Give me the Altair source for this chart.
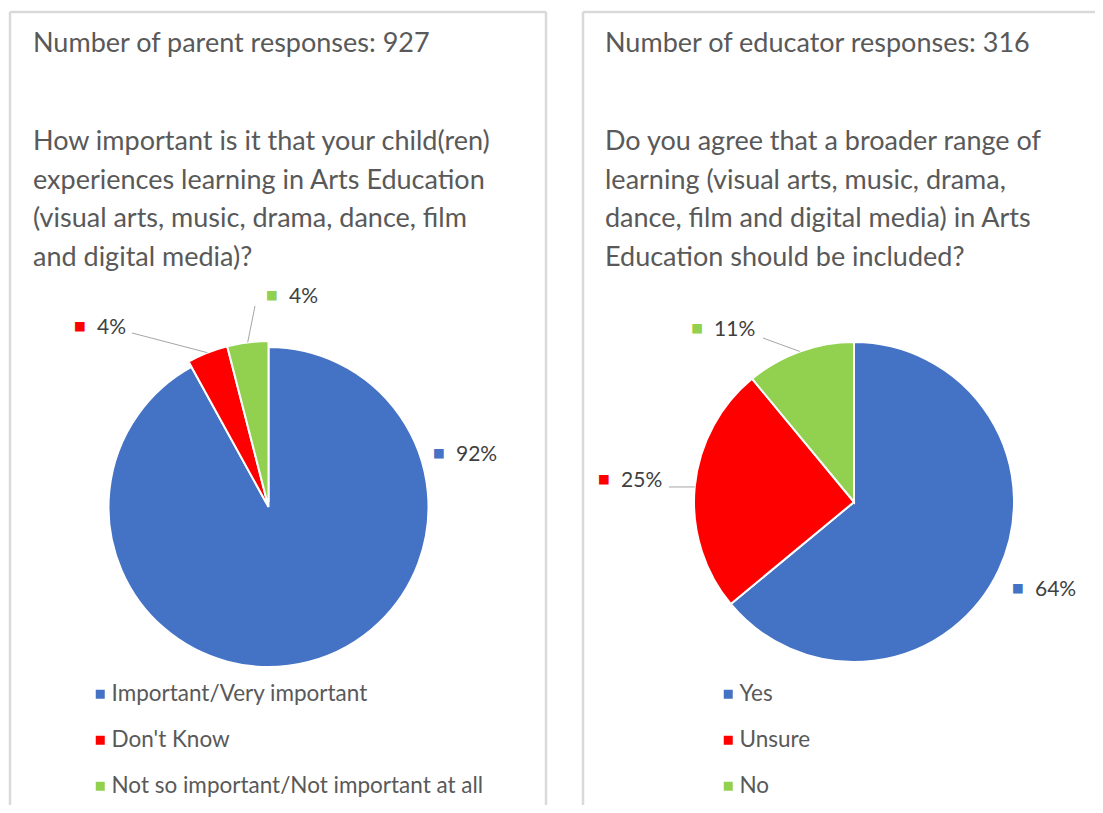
import altair as alt
import pandas as pd

# ---------------- data ----------------
parent_categories = ["Important/Very important", "Don't Know", "Not so important/Not important at all"]
parent_values = [92, 4, 4]
educator_categories = ["Yes", "Unsure", "No"]
educator_values = [64, 25, 11]

parent_heading = "Number of parent responses: 927"
parent_question = [
    "How important is it that your child(ren)",
    "experiences learning in Arts Education",
    "(visual arts, music, drama, dance, film",
    "and digital media)?",
]
educator_heading = "Number of educator responses: 316"
educator_question = [
    "Do you agree that a broader range of",
    "learning (visual arts, music, drama,",
    "dance, film and digital media) in Arts",
    "Education should be included?",
]

# ---------------- style ----------------
COLORS = ["#4472C4", "#FF0000", "#92D050"]
FONT = "Lato"
TEXT = "#595959"
LABEL = "#404040"
BORDER = "#D9D9D9"
LEADER = "#A6A6A6"
W, H = 1087, 797
RL = 185
THETA_SCALE = alt.Scale(domain=[0, 100])


def text_layer(s, x, y, size=27):
    return alt.Chart(pd.DataFrame({"t": [s]})).mark_text(
        font=FONT, fontSize=size, color=TEXT, align="left", baseline="alphabetic"
    ).encode(text="t:N", x=alt.value(x), y=alt.value(y))


def rule_layer(x, y, x2, y2):
    return alt.Chart(pd.DataFrame({"a": [0]})).mark_rule(color=BORDER, strokeWidth=2.5).encode(
        x=alt.value(x), y=alt.value(y), x2=alt.value(x2), y2=alt.value(y2)
    )


def panel(cats, vals, key, cx, cy, R, explode, explode_cats, nudges, leaders,
          legend_xy, tx, heading, question):
    df = pd.DataFrame({key: cats, "value": vals, "order": list(range(len(cats)))})
    base = (
        alt.Chart(df)
        .transform_window(cum="sum(value)", sort=[alt.SortField("order")], frame=[None, 0])
        .transform_calculate(start="datum.cum - datum.value")
        .transform_calculate(mid="datum.cum - datum.value / 2")
        .transform_calculate(pct="datum.value + '%'")
    )
    color = alt.Color(
        f"{key}:N",
        scale=alt.Scale(domain=cats, range=COLORS),
        legend=alt.Legend(
            orient="none", legendX=legend_xy[0], legendY=legend_xy[1], title=None,
            direction="vertical", symbolType="square", symbolSize=81, symbolStrokeWidth=0,
            labelFont=FONT, labelFontSize=22.5, labelColor=TEXT, labelOffset=0,
            rowPadding=23, padding=0, labelLimit=0,
        ),
    )
    enc = dict(
        theta=alt.Theta("start:Q", scale=THETA_SCALE, stack=False),
        theta2="cum:Q",
        color=color,
        order=alt.Order("order:Q"),
        x=alt.value(cx),
        y=alt.value(cy),
    )
    layers = []
    if explode_cats:
        layers.append(
            base.transform_filter(alt.FieldOneOfPredicate(field=key, oneOf=[c for c in cats if c not in explode_cats]))
            .mark_arc(radius=R, stroke="white", strokeWidth=2).encode(**enc)
        )
        layers.append(
            base.transform_filter(alt.FieldOneOfPredicate(field=key, oneOf=explode_cats))
            .mark_arc(radius=R + explode, radius2=explode, stroke="white", strokeWidth=2).encode(**enc)
        )
    else:
        layers.append(base.mark_arc(radius=R, stroke="white", strokeWidth=2).encode(**enc))

    for i, c in enumerate(cats):
        ndx, ndy = nudges[c]
        sub = base.transform_filter(alt.datum[key] == c)
        pol = dict(theta=alt.Theta("mid:Q", scale=THETA_SCALE, stack=False),
                   radius=alt.value(RL), x=alt.value(cx), y=alt.value(cy))
        layers.append(sub.mark_text(text="■", font="DejaVu Sans", fontSize=12.5, color=COLORS[i],
                                    dx=ndx, dy=ndy - 2, align="center", baseline="middle").encode(**pol))
        layers.append(sub.mark_text(font=FONT, fontSize=21, color=LABEL, dx=ndx + 17, dy=ndy,
                                    align="left", baseline="middle").encode(text="pct:N", **pol))
        if c in leaders:
            ox, oy = leaders[c]
            redge = R + (explode if c in explode_cats else 0)
            layers.append(
                sub.transform_calculate(a="2 * PI * datum.mid / 100")
                .transform_calculate(
                    x1=f"{cx} + {redge} * sin(datum.a)",
                    y1=f"{cy} - {redge} * cos(datum.a)",
                    x2=f"{cx} + {RL} * sin(datum.a) + {ndx + ox}",
                    y2=f"{cy} - {RL} * cos(datum.a) + {ndy + oy}",
                )
                .mark_rule(color=LEADER, strokeWidth=1)
                .encode(x=alt.X("x1:Q", scale=None), y=alt.Y("y1:Q", scale=None),
                        x2="x2:Q", y2="y2:Q")
            )

    layers.append(text_layer(heading, tx, 44))
    for j, line in enumerate(question):
        layers.append(text_layer(line, tx, 142 + j * 38.7))
    return alt.layer(*layers)


left = panel(
    parent_categories, parent_values, "parent", 260.5, 499, 160, 6,
    ["Don't Know", "Not so important/Not important at all"],
    {"Important/Very important": (124.5, -231.2), "Don't Know": (-120.4, -7.0),
     "Not so important/Not important at all": (26.7, -26.5)},
    {"Don't Know": (52, 5), "Not so important/Not important at all": (-17, 9)},
    (81, 675), 25, parent_heading, parent_question,
)
right = panel(
    educator_categories, educator_values, "educator", 846, 494, 160, 0, [],
    {"Yes": (-3.4, 9.2), "Unsure": (-65.8, -3.6), "No": (-94.3, 2.1)},
    {"Unsure": (65, 6), "No": (66, 8)},
    (709, 675), 597, educator_heading, educator_question,
)

borders = alt.layer(
    rule_layer(2, 4, 538, 4),
    rule_layer(2, 4, 2, H),
    rule_layer(538, 4, 538, H),
    rule_layer(575, 4, W, 4),
    rule_layer(575, 4, 575, H),
)

chart = (
    alt.layer(borders, left, right)
    .resolve_scale(color="independent")
    .properties(width=W, height=H, padding=0, autosize=alt.AutoSizeParams(type="none"),
                background="white")
    .configure_view(strokeWidth=0)
)

chart.save("out.html", embed_options={"renderer": "svg", "actions": False})
